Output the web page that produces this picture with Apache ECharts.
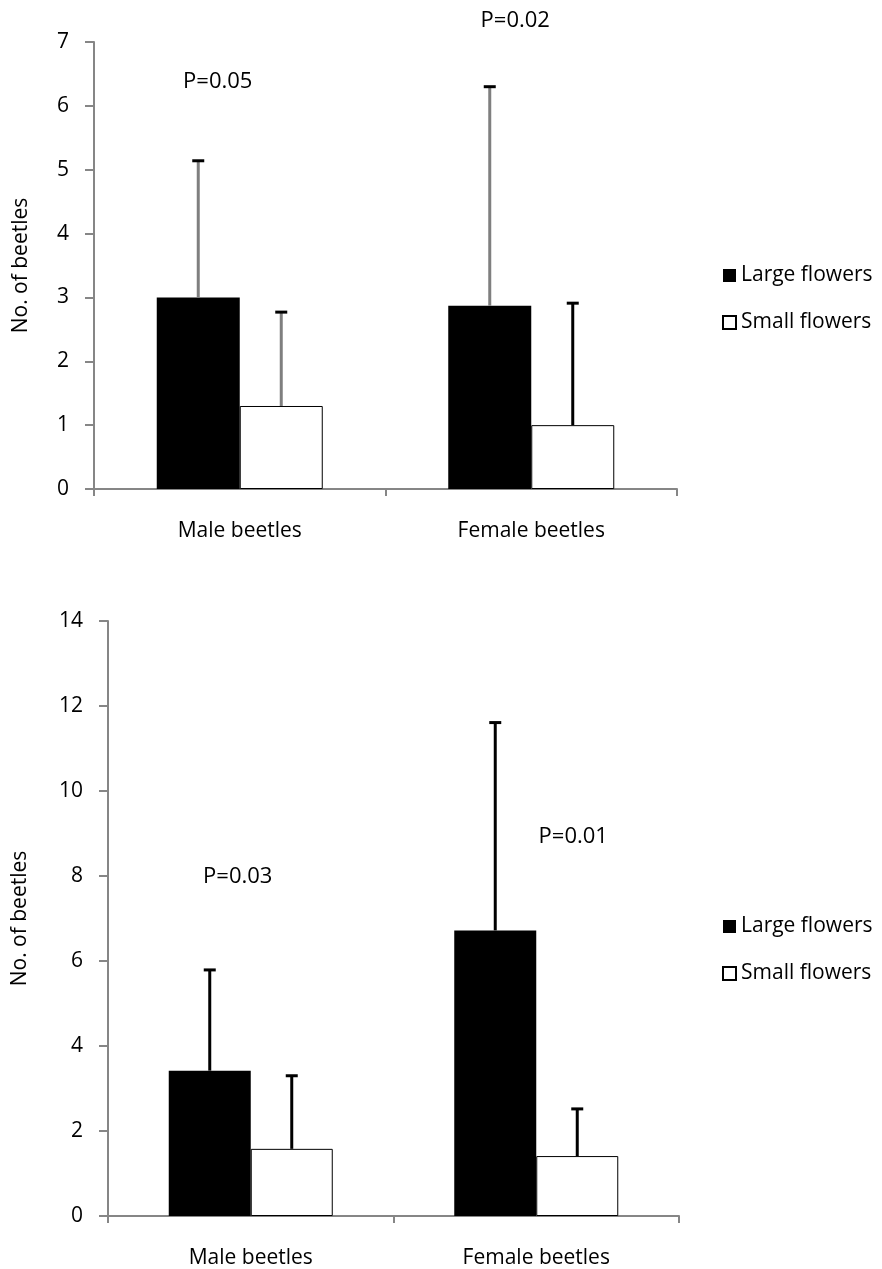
<!DOCTYPE html>
<html>
<head>
    <meta charset="UTF-8">
    <title>No. of beetles on large and small flowers</title>
    <script src="https://cdn.jsdelivr.net/npm/echarts@6/dist/echarts.min.js"></script>
    <style>
        html, body { margin: 0; padding: 0; background: #fff; }
        #chart { width: 882px; height: 1269px; }
    </style>
</head>
<body>
    <div id="chart"></div>
    <script>
        // data
        const categories = ['Male beetles', 'Female beetles'];
        const seriesNames = ['Large flowers', 'Small flowers'];

        // upper panel
        const topLarge = [3.0, 2.87];
        const topSmall = [1.3, 1.0];
        const topLargeSd = [2.14, 3.43];
        const topSmallSd = [1.47, 1.91];
        const topP = ['P=0.05', 'P=0.02'];

        // lower panel
        const botLarge = [3.42, 6.72];
        const botSmall = [1.58, 1.41];
        const botLargeSd = [2.37, 4.89];
        const botSmallSd = [1.72, 1.11];
        const botP = ['P=0.03', 'P=0.01'];

        const FONT = '"Open Sans", "Liberation Sans", sans-serif';
        const AXIS_GREY = '#868686';

        function errData(means, sds) {
            return means.map((m, i) => [i, m, m + sds[i]]);
        }

        // whisker drawn above a bar, shifted by half a bar width
        function errBar(offset, lineColors) {
            return function (params, api) {
                const i = api.value(0);
                const base = api.coord([i, api.value(1)]);
                const top = api.coord([i, api.value(2)]);
                const x = base[0] + offset;
                return {
                    type: 'group',
                    children: [
                        { type: 'line', shape: { x1: x, y1: base[1], x2: x, y2: top[1] },
                          style: { stroke: lineColors[params.dataIndex], lineWidth: 3 } },
                        { type: 'line', shape: { x1: x - 6, y1: top[1], x2: x + 6, y2: top[1] },
                          style: { stroke: '#000', lineWidth: 3 } }
                    ]
                };
            };
        }

        function yAxisFor(gridIndex, max, interval, nameGap) {
            return {
                gridIndex: gridIndex, type: 'value', min: 0, max: max, interval: interval,
                name: 'No. of beetles', nameLocation: 'middle', nameGap: nameGap, nameRotate: 90,
                nameTextStyle: { fontFamily: FONT, fontSize: 21, color: '#000' },
                axisLine: { show: true, lineStyle: { color: AXIS_GREY, width: 2 } },
                axisTick: { show: true, length: 9, lineStyle: { color: AXIS_GREY, width: 2 } },
                axisLabel: { fontFamily: FONT, fontSize: 21, color: '#000', margin: 25 },
                splitLine: { show: false }
            };
        }

        function xAxisFor(gridIndex) {
            return {
                gridIndex: gridIndex, type: 'category', data: categories,
                axisLine: { lineStyle: { color: AXIS_GREY, width: 2 } },
                axisTick: { show: true, length: 7, interval: 0, lineStyle: { color: AXIS_GREY, width: 2 } },
                axisLabel: { fontFamily: FONT, fontSize: 21, color: '#000', margin: 32, interval: 0 }
            };
        }

        function barSeries(axisIdx, name, values, isLarge, width) {
            return {
                name: name, type: 'bar', xAxisIndex: axisIdx, yAxisIndex: axisIdx,
                data: values, barWidth: width, barGap: '0%',
                itemStyle: isLarge ? { color: '#000' } : { color: '#fff', borderColor: '#000', borderWidth: 1 }
            };
        }

        function pSeries(axisIdx, texts, ys, offsets) {
            return {
                type: 'scatter', xAxisIndex: axisIdx, yAxisIndex: axisIdx, clip: false, silent: true,
                symbolSize: 0.1, itemStyle: { color: '#fff' },
                data: texts.map((t, i) => ({
                    value: [i, ys[i]],
                    label: { show: true, position: 'inside', formatter: t, offset: [offsets[i], 0],
                             fontFamily: FONT, fontSize: 22, color: '#000',
                             textBorderWidth: 0, opacity: 1 }
                }))
            };
        }

        function legendFor(top) {
            return {
                data: seriesNames, orient: 'vertical', left: 717, top: top,
                itemWidth: 13, itemHeight: 13, itemGap: 26, icon: 'rect', selectedMode: false,
                textStyle: { fontFamily: FONT, fontSize: 21, color: '#000' }
            };
        }

        const chart = echarts.init(document.getElementById('chart'));
        chart.setOption({
            backgroundColor: '#fff',
            animation: false,
            legend: [legendFor(260), legendFor(911)],
            grid: [
                { left: 94, top: 42, width: 583, height: 447 },
                { left: 108, top: 621, width: 571, height: 596 }
            ],
            xAxis: [xAxisFor(0), xAxisFor(1)],
            yAxis: [yAxisFor(0, 7, 1, 62), yAxisFor(1, 14, 2, 77)],
            series: [
                barSeries(0, seriesNames[0], topLarge, true, 83),
                barSeries(0, seriesNames[1], topSmall, false, 83),
                barSeries(1, seriesNames[0], botLarge, true, 82),
                barSeries(1, seriesNames[1], botSmall, false, 82),
                { type: 'custom', xAxisIndex: 0, yAxisIndex: 0, z: 5, encode: { x: 0, y: [1, 2] },
                  renderItem: errBar(-41.5, ['#7f7f7f', '#7f7f7f']), data: errData(topLarge, topLargeSd) },
                { type: 'custom', xAxisIndex: 0, yAxisIndex: 0, z: 5, encode: { x: 0, y: [1, 2] },
                  renderItem: errBar(41.5, ['#7f7f7f', '#000']), data: errData(topSmall, topSmallSd) },
                { type: 'custom', xAxisIndex: 1, yAxisIndex: 1, z: 5, encode: { x: 0, y: [1, 2] },
                  renderItem: errBar(-41, ['#000', '#000']), data: errData(botLarge, botLargeSd) },
                { type: 'custom', xAxisIndex: 1, yAxisIndex: 1, z: 5, encode: { x: 0, y: [1, 2] },
                  renderItem: errBar(41, ['#000', '#000']), data: errData(botSmall, botSmallSd) },
                pSeries(0, topP, [6.37, 7.34], [-22, -16]),
                pSeries(1, botP, [7.98, 8.92], [-13, 37])
            ]
        });
    </script>
</body>
</html>
